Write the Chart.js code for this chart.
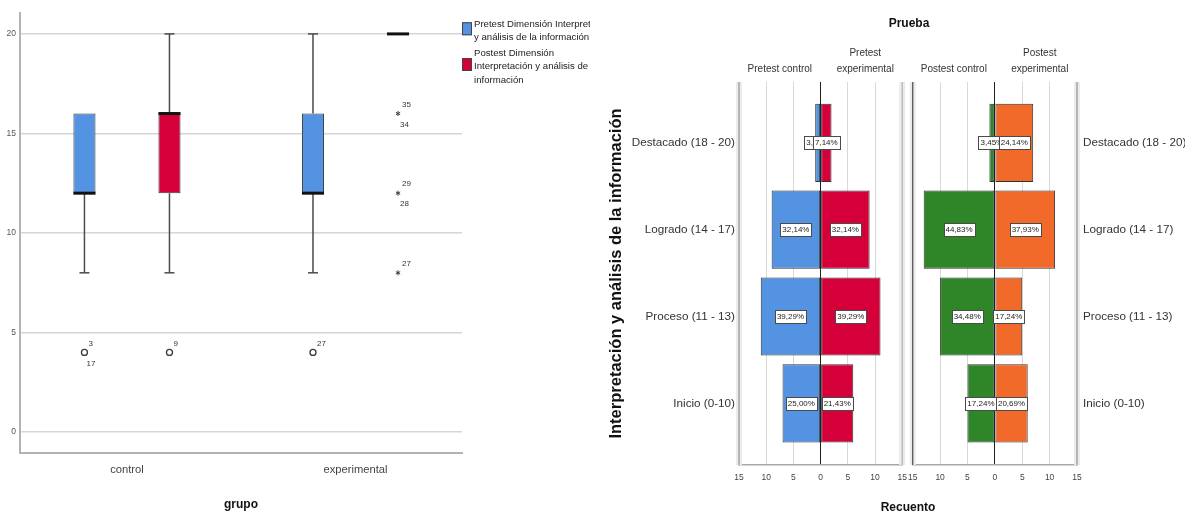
<!DOCTYPE html>
<html>
<head>
<meta charset="utf-8">
<script src="https://cdn.jsdelivr.net/npm/chart.js@4.4.1/dist/chart.umd.min.js"></script>
<style>
  html, body { margin: 0; padding: 0; background: #fff; }
  body { width: 1185px; height: 513px; position: relative; overflow: hidden; }
  canvas { position: absolute; top: 0; }
  .heading {
    position: absolute;
    transform: translate(-50%, -50%);
    font-family: 'Liberation Sans', Arial, sans-serif;
    font-weight: bold;
    font-size: 12px;
    color: #111;
    white-space: nowrap;
  }
</style>
</head>
<body>
<canvas id="scoreBox" width="590" height="513" style="left:0px"></canvas>
<canvas id="pyramidPre" width="315" height="513" style="left:600px"></canvas>
<canvas id="pyramidPost" width="285" height="513" style="left:900px"></canvas>
<div class="heading" style="left:909px; top:23px;">Prueba</div>
<div class="heading" style="left:908px; top:507px;">Recuento</div>

<script>
// ---------- Box plot: scores per group ----------
const groups = ['control', 'experimental'];
const seriesLabels = [
  'Pretest Dimensión Interpretación y análisis de la información',
  'Postest Dimensión Interpretación y análisis de la información'
];
const legendLines = [
  ['Pretest Dimensión Interpretación', 'y análisis de la información'],
  ['Postest Dimensión', 'Interpretación y análisis de la', 'información']
];
const pretestMin = [8, 8];
const pretestQ1 = [12, 12];
const pretestMedian = [12, 12];
const pretestQ3 = [16, 16];
const pretestMax = [16, 20];
const postestMin = [8, 20];
const postestQ1 = [12, 20];
const postestMedian = [16, 20];
const postestQ3 = [16, 20];
const postestMax = [20, 20];
const pretestOutliers = [
  { group: 0, value: 4, cases: ['3', '17'] },
  { group: 1, value: 4, cases: ['27'] }
];
const postestOutliers = [
  { group: 0, value: 4, cases: ['9'] }
];
const pretestExtremes = [];
const postestExtremes = [
  { group: 1, value: 16, cases: ['35', '34'] },
  { group: 1, value: 12, cases: ['29', '28'] },
  { group: 1, value: 8, cases: ['27'] }
];
const scoreTicks = [0, 5, 10, 15, 20];

// ---------- Pyramids: counts per achievement level ----------
const levels = ['Destacado (18 - 20)', 'Logrado (14 - 17)', 'Proceso (11 - 13)', 'Inicio (0-10)'];
const pretestControl = [1, 9, 11, 7];
const pretestExperimental = [2, 9, 11, 6];
const postestControl = [1, 13, 10, 5];
const postestExperimental = [7, 11, 5, 6];
const countTicks = [-15, -10, -5, 0, 5, 10, 15];

const SANS = "'Liberation Sans', Arial, sans-serif";
Chart.defaults.font.family = SANS;
Chart.defaults.color = '#333';

const BLUE = '#5393E2', RED = '#D5003A', GREEN = '#2E8629', ORANGE = '#F26A2A';

const boxSeries = [
  { label: seriesLabels[0], lo: pretestMin, q1: pretestQ1, med: pretestMedian, q3: pretestQ3, hi: pretestMax,
    outliers: pretestOutliers, extremes: pretestExtremes, color: BLUE },
  { label: seriesLabels[1], lo: postestMin, q1: postestQ1, med: postestMedian, q3: postestQ3, hi: postestMax,
    outliers: postestOutliers, extremes: postestExtremes, color: RED }
];

function seg(ctx, x1, y1, x2, y2) {
  ctx.beginPath();
  ctx.moveTo(x1, y1);
  ctx.lineTo(x2, y2);
  ctx.stroke();
}

// Whiskers, medians, outliers (o) and extremes (*) with their case numbers
const boxWhiskers = {
  id: 'boxWhiskers',
  afterDatasetsDraw(chart) {
    const { ctx } = chart;
    const ys = chart.scales.y;
    ctx.save();
    boxSeries.forEach((s, k) => {
      const meta = chart.getDatasetMeta(k);
      meta.data.forEach((bar, i) => {
        const cx = bar.x, half = bar.width / 2;
        const yLo = ys.getPixelForValue(s.lo[i]);
        const yQ1 = ys.getPixelForValue(s.q1[i]);
        const yQ3 = ys.getPixelForValue(s.q3[i]);
        const yHi = ys.getPixelForValue(s.hi[i]);
        const yMed = ys.getPixelForValue(s.med[i]);
        ctx.strokeStyle = '#4a4a4a';
        ctx.lineWidth = 1.5;
        if (s.lo[i] < s.q1[i]) {
          seg(ctx, cx, yQ1, cx, yLo);
          seg(ctx, cx - 5, yLo, cx + 5, yLo);
        }
        if (s.hi[i] > s.q3[i]) {
          seg(ctx, cx, yQ3, cx, yHi);
          seg(ctx, cx - 5, yHi, cx + 5, yHi);
        }
        ctx.strokeStyle = '#111';
        ctx.lineWidth = 3;
        seg(ctx, cx - half, yMed, cx + half, yMed);
      });

      const marks = [
        ...s.outliers.map(o => ({ ...o, kind: 'o' })),
        ...s.extremes.map(o => ({ ...o, kind: '*' }))
      ];
      marks.forEach(m => {
        const x = meta.data[m.group].x;
        const y = ys.getPixelForValue(m.value);
        ctx.strokeStyle = '#3a3a3a';
        ctx.lineWidth = 1.3;
        if (m.kind === 'o') {
          ctx.beginPath();
          ctx.arc(x, y, 3, 0, Math.PI * 2);
          ctx.stroke();
        } else {
          ctx.lineWidth = 1;
          for (let a = 0; a < 3; a++) {
            const ang = Math.PI / 2 + a * Math.PI / 3;
            seg(ctx, x - Math.cos(ang) * 2.5, y - Math.sin(ang) * 2.5, x + Math.cos(ang) * 2.5, y + Math.sin(ang) * 2.5);
          }
        }
        ctx.fillStyle = '#333';
        ctx.font = '8px ' + SANS;
        ctx.textAlign = 'left';
        ctx.textBaseline = 'middle';
        ctx.fillText(m.cases[0], x + 4, y - 9);
        if (m.cases[1]) ctx.fillText(m.cases[1], x + 2, y + 11);
      });
    });
    ctx.restore();
  }
};

// Legend beside the box plot (long labels wrap and run off the canvas edge)
const boxLegend = {
  id: 'boxLegend',
  afterDraw(chart) {
    const { ctx, chartArea } = chart;
    const x0 = chartArea.right;
    const tops = [17, 46];
    const lh = 13.5;
    ctx.save();
    ctx.font = '9.6px ' + SANS;
    ctx.textBaseline = 'middle';
    ctx.textAlign = 'left';
    legendLines.forEach((lines, k) => {
      const first = tops[k] + 7;
      const mid = first + (lines.length - 1) * lh / 2;
      const ds = chart.data.datasets[k];
      ctx.fillStyle = ds.backgroundColor;
      ctx.fillRect(x0, mid - 8.5, 10, 13);
      ctx.strokeStyle = '#444';
      ctx.lineWidth = 1;
      ctx.strokeRect(x0 + 0.5, mid - 8, 9, 12);
      ctx.fillStyle = '#222';
      lines.forEach((t, j) => ctx.fillText(t, x0 + 12, first + j * lh));
    });
    ctx.restore();
  }
};

new Chart(document.getElementById('scoreBox'), {
  type: 'bar',
  data: {
    datasets: boxSeries.map(s => ({
      label: s.label,
      data: groups.map((g, i) => ({ x: i, y: [s.q1[i], s.q3[i]] })),
      backgroundColor: s.color,
      borderColor: '#3a3a3a',
      borderWidth: 1,
      borderSkipped: false,
      categoryPercentage: 0.744,
      barPercentage: 0.26
    }))
  },
  options: {
    responsive: false,
    animation: false,
    events: [],
    layout: { padding: { top: 13, right: 128, left: 0, bottom: 0 } },
    plugins: { legend: { display: false }, tooltip: { enabled: false } },
    scales: {
      x: {
        type: 'linear',
        offset: false,
        min: -0.468,
        max: 1.466,
        afterBuildTicks: s => { s.ticks = groups.map((g, i) => ({ value: i })); },
        ticks: { callback: v => groups[v], font: { size: 11.2 }, color: '#444', padding: 10, autoSkip: false, maxRotation: 0 },
        grid: { display: false, drawTicks: false, offset: false },
        border: { color: '#b3b3b3', width: 2 },
        title: { display: true, text: 'grupo', font: { size: 12, weight: 'bold' }, color: '#111', padding: { top: 0, bottom: 1 } },
        afterFit: s => { s.height = 60; }
      },
      y: {
        min: -1.05,
        max: 21.05,
        afterBuildTicks: s => { s.ticks = scoreTicks.map(v => ({ value: v })); },
        ticks: { font: { size: 8.5 }, color: '#555', padding: 4 },
        grid: { color: '#d6d6d6', lineWidth: 1.5, drawTicks: false },
        border: { color: '#b3b3b3', width: 2 },
        afterFit: s => { s.width = 20; }
      }
    }
  },
  plugins: [boxWhiskers, boxLegend]
});

// ---------- Pyramid helpers ----------
const panelFrame = {
  id: 'panelFrame',
  beforeDatasetsDraw(chart, args, opts) {
    const { ctx, chartArea: { left, right, top, bottom } } = chart;
    ctx.save();
    [[left, opts.leftColor], [right, opts.rightColor]].forEach(([x, col]) => {
      ctx.fillStyle = '#ebebeb';
      ctx.fillRect(x - 3, top, 6, bottom - top);
      ctx.strokeStyle = col;
      ctx.lineWidth = 1.3;
      seg(ctx, x, top, x, bottom);
    });
    ctx.restore();
  }
};

const barPercents = {
  id: 'barPercents',
  afterDatasetsDraw(chart) {
    const { ctx } = chart;
    ctx.save();
    ctx.font = '8px ' + SANS;
    ctx.textAlign = 'center';
    ctx.textBaseline = 'middle';
    chart.data.datasets.forEach((ds, k) => {
      chart.getDatasetMeta(k).data.forEach((bar, i) => {
        const text = (ds.counts[i] / ds.total * 100).toFixed(2).replace('.', ',') + '%';
        const cx = (bar.x + bar.base) / 2, cy = bar.y;
        const w = Math.round(ctx.measureText(text).width + 4), h = 13;
        const bx = Math.round(cx - w / 2) + 0.5, by = Math.round(cy - h / 2) + 0.5;
        ctx.fillStyle = '#fff';
        ctx.fillRect(bx, by, w, h);
        ctx.strokeStyle = '#4a4a4a';
        ctx.lineWidth = 1;
        ctx.strokeRect(bx, by, w, h);
        ctx.fillStyle = '#222';
        ctx.fillText(text, cx, cy + 0.5);
      });
    });
    ctx.restore();
  }
};

const columnHeaders = {
  id: 'columnHeaders',
  afterDraw(chart, args, opts) {
    const { ctx, chartArea } = chart;
    const xs = chart.scales.x;
    ctx.save();
    ctx.font = '10px ' + SANS;
    ctx.textAlign = 'center';
    ctx.textBaseline = 'middle';
    ctx.fillStyle = '#333';
    opts.items.forEach(item => {
      const x = xs.getPixelForValue(item.value);
      const last = chartArea.top - 13;
      item.lines.forEach((t, j) => {
        ctx.fillText(t, x, last - (item.lines.length - 1 - j) * 15.7);
      });
    });
    ctx.restore();
  }
};

function pyramid(id, series, colors, headers, side, yTitle) {
  const isLeft = side === 'left';
  return new Chart(document.getElementById(id), {
    type: 'bar',
    data: {
      datasets: series.map((counts, k) => ({
        data: counts.map((c, i) => ({ x: k === 0 ? -c : c, y: i })),
        counts: counts,
        total: counts.reduce((a, b) => a + b, 0),
        backgroundColor: colors[k],
        borderColor: '#333',
        borderWidth: 1,
        borderSkipped: false,
        grouped: false,
        categoryPercentage: 1,
        barPercentage: 0.9
      }))
    },
    options: {
      indexAxis: 'y',
      responsive: false,
      animation: false,
      events: [],
      layout: { padding: isLeft ? { top: 82, right: 10, bottom: 0, left: 0 } : { top: 82, right: 0, bottom: 0, left: 10 } },
      plugins: {
        legend: { display: false },
        tooltip: { enabled: false },
        panelFrame: isLeft ? { leftColor: '#9a9a9a', rightColor: '#b8b8b8' } : { leftColor: '#555', rightColor: '#9a9a9a' },
        columnHeaders: { items: headers }
      },
      scales: {
        x: {
          type: 'linear',
          min: -15,
          max: 15,
          afterBuildTicks: s => { s.ticks = countTicks.map(v => ({ value: v })); },
          ticks: { callback: v => String(Math.abs(v)), font: { size: 8.5 }, color: '#444', padding: 8, autoSkip: false, maxRotation: 0 },
          grid: {
            drawTicks: false,
            lineWidth: 1,
            color: c => {
              const v = c.tick ? c.tick.value : null;
              if (v === 0) return '#1e1e1e';
              if (Math.abs(v) === 15) return 'rgba(0,0,0,0)';
              return '#d8d8d8';
            }
          },
          border: { color: '#a8a8a8', width: 1.5 },
          afterFit: s => { s.height = 48; }
        },
        y: {
          type: 'linear',
          position: side,
          offset: false,
          reverse: true,
          min: -0.7,
          max: 3.71,
          afterBuildTicks: s => { s.ticks = levels.map((l, i) => ({ value: i })); },
          ticks: { callback: v => levels[v], font: { size: 11.7 }, color: '#333', padding: isLeft ? 4 : 6, autoSkip: false },
          grid: { display: false, drawTicks: false, offset: false },
          border: { display: false },
          title: yTitle ? {
            display: true,
            text: yTitle,
            font: { size: 16.5, weight: 'bold' },
            color: '#111',
            padding: { top: 7, bottom: 0 }
          } : { display: false },
          afterFit: s => { s.width = isLeft ? 139 : 108; }
        }
      }
    },
    plugins: [panelFrame, barPercents, columnHeaders]
  });
}

pyramid('pyramidPre', [pretestControl, pretestExperimental], [BLUE, RED],
  [{ value: -7.5, lines: ['Pretest control'] }, { value: 8.2, lines: ['Pretest', 'experimental'] }],
  'left', 'Interpretación y análisis de la información');

pyramid('pyramidPost', [postestControl, postestExperimental], [GREEN, ORANGE],
  [{ value: -7.5, lines: ['Postest control'] }, { value: 8.2, lines: ['Postest', 'experimental'] }],
  'right', null);
</script>
</body>
</html>
